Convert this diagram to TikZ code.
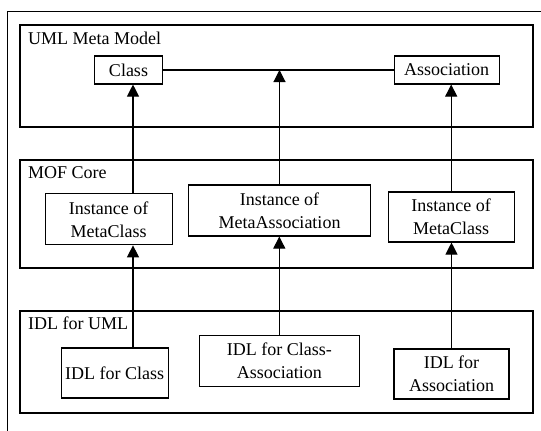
\documentclass[tikz,border=0pt]{standalone}
\usepackage{fontspec}
\setmainfont{Liberation Serif}
\usetikzlibrary{arrows.meta}
\tikzset{
  layer/.style={draw, line width=1.1pt, minimum width=513pt, inner sep=0pt},
  box/.style={draw, line width=1.1pt, align=center, inner sep=0pt, font=\fontsize{18}{23}\selectfont},
  title/.style={anchor=base west, inner sep=0pt, font=\fontsize{18}{23}\selectfont},
  link/.style={line width=1.1pt},
  isa/.style={line width=1.1pt, -{Triangle[length=12pt,width=12pt]}},
}
\begin{document}
\begin{tikzpicture}[x=1pt, y=-1pt]
      \useasboundingbox (0,0) rectangle (541,431);
      \draw[line width=0.8pt] (7,432) -- (7,11) -- (542,11);
      \draw
        (276.5,76) node[layer, minimum height=102pt] (uml){}
        (276.5,214) node[layer, minimum height=108pt] (mof){}
        (276.5,362) node[layer, minimum height=102pt] (idl){};
      \draw
        ([xshift=8.5pt,yshift=-20.5pt]uml.north west) node[title] (umlt){UML Meta Model}
        ([xshift=8.5pt,yshift=-19pt]mof.north west) node[title] (moft){MOF Core}
        ([xshift=8.5pt,yshift=-19pt]idl.north west) node[title] (idlt){IDL for UML};
      \draw
        (128.5,70) node[box, minimum width=68pt, minimum height=28pt] (cls){Class}
        (446.7,70) node[box, minimum width=105pt, minimum height=28pt] (asc){Association}
        (108.7,219.3) node[box, minimum width=127pt, minimum height=51pt] (mc1){Instance of\\MetaClass}
        (279.5,210.5) node[box, minimum width=182pt, minimum height=51pt] (ma){Instance of\\MetaAssociation}
        (451.2,217) node[box, minimum width=126pt, minimum height=50pt] (mc2){Instance of\\MetaClass}
        (114.7,373) node[box, minimum width=107pt, minimum height=50pt] (ic){IDL for Class}
        (279.3,360.7) node[box, minimum width=160pt, minimum height=51pt] (ica){IDL for Class-\\Association}
        (451.5,374) node[box, minimum width=115pt, minimum height=50pt] (ia){IDL for\\Association};
      \coordinate (lx) at (133,0);
      \draw[link] (cls) to (asc);
      \begin{scope}[isa]
        \draw (mc1.north -| lx) to (cls.south -| lx);
        \draw (ma.north) to (ma.north |- cls.east);
        \draw (mc2.north) to (mc2.north |- asc.south);
        \draw (ic.north -| lx) to (mc1.south -| lx);
        \draw (ica.north) to (ica.north |- ma.south);
        \draw (ia.north) to (ia.north |- mc2.south);
      \end{scope}
    \end{tikzpicture}
\end{document}
